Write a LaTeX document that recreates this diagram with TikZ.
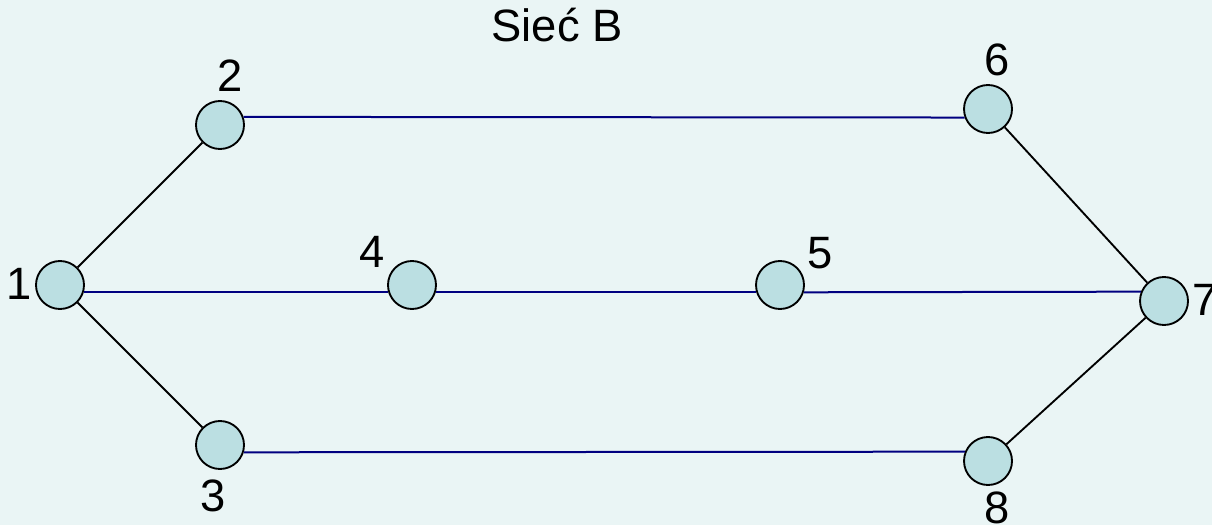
\documentclass[tikz,border=0pt]{standalone}
\usepackage{fontspec}
\setmainfont{Liberation Sans}
\usepackage{tikz}
\usetikzlibrary{positioning}
\definecolor{bgcyan}{RGB}{234,245,245}
\definecolor{vertexfill}{RGB}{187,223,226}
\definecolor{linkblue}{RGB}{0,0,128}
\tikzset{
	vertex/.style = {
			circle,
			draw            = black,
			fill            = vertexfill,
			line width      = 1.4pt,
			minimum size    = 36pt,
			inner sep       = 0pt,
		},
	tag/.style = {font=\fontsize{34}{40}\selectfont, inner sep=0pt},
	link/.style = {draw=linkblue, line width=1.5pt},
	slant/.style = {draw=black, line width=1.4pt},
}

\begin{document}
\begin{tikzpicture}[x=0.75pt, y=-0.75pt]
	\fill[bgcyan] (0,0) rectangle (1212,525);
	\useasboundingbox (0,0) rectangle (1212,525);
	% vertices
	\node[vertex] (n1) at (60,285) {};
	\node[vertex] (n2) at (220,125) {};
	\node[vertex] (n3) at (220,445) {};
	\node[vertex] (n4) at (412,285) {};
	\node[vertex] (n5) at (780,285) {};
	\node[vertex] (n6) at (988,109) {};
	\node[vertex] (n7) at (1164,301) {};
	\node[vertex] (n8) at (988,461) {};
	% labels
	\node[tag] (title) at (557,25) {Sieć B};
	\node[tag] (l1) at (19,284) {1};
	\node[tag] (l2) at (230,76) {2};
	\node[tag] (l3) at (213,496) {3};
	\node[tag] (l4) at (372,252) {4};
	\node[tag] (l5) at (820,253) {5};
	\node[tag] (l6) at (997,60) {6};
	\node[tag] (l7) at (1205,300) {7};
	\node[tag] (l8) at (997,508) {8};
	% links
	\draw[link] (n2.19.5) -- (n6.-160.5);
	\draw[link] (n1.-17) -- (n4.197);
	\draw[link] (n4.-17) -- (n5.197);
	\draw[link] (n5.-17) -- (n7.158);
	\draw[link] (n3.-17) -- (n8.158);
	\draw[slant] (n1) -- (n2);
	\draw[slant] (n1) -- (n3);
	\draw[slant] (n6) -- (n7);
	\draw[slant] (n8) -- (n7);
\end{tikzpicture}
\end{document}
